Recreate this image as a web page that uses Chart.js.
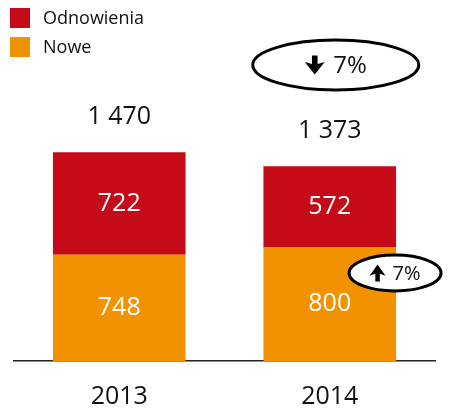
<!DOCTYPE html>
<html>
<head>
<meta charset="utf-8">
<script src="https://cdn.jsdelivr.net/npm/chart.js@4.4.1/dist/chart.umd.min.js"></script>
<style>
  html, body { margin: 0; padding: 0; background: #fff; }
  canvas { display: block; }
</style>
</head>
<body>
<canvas id="chart" width="449" height="408"></canvas>
<script>
const years = ["2013", "2014"];
const nowe = [748, 800];
const odnowienia = [722, 572];
const totals = [1470, 1373];
const seriesNames = ["Nowe", "Odnowienia"];
const seriesColors = ["#f29200", "#c40b17"];
const totalChange = { dir: "down", text: "7%" };
const noweChange = { dir: "up", text: "7%" };

const FONT = "'Open Sans', 'Liberation Sans', sans-serif";

// "1470" -> "1 470"
function fmt(v) {
  return String(v).replace(/\B(?=(\d{3})+(?!\d))/g, " ");
}

function drawArrow(ctx, cx, cy, dir, h, w) {
  const s = dir === "down" ? 1 : -1;
  const headH = h * 0.55;
  const shaft = w * 0.28;
  ctx.beginPath();
  ctx.moveTo(cx - shaft / 2, cy - s * h / 2);
  ctx.lineTo(cx + shaft / 2, cy - s * h / 2);
  ctx.lineTo(cx + shaft / 2, cy + s * (h / 2 - headH));
  ctx.lineTo(cx + w / 2, cy + s * (h / 2 - headH) - s * 2);
  ctx.lineTo(cx, cy + s * h / 2);
  ctx.lineTo(cx - w / 2, cy + s * (h / 2 - headH) - s * 2);
  ctx.lineTo(cx - shaft / 2, cy + s * (h / 2 - headH));
  ctx.closePath();
  ctx.fill();
}

function drawBadge(ctx, cx, cy, rx, ry, change, fontSize, arrowH, arrowW) {
  ctx.save();
  ctx.beginPath();
  ctx.ellipse(cx, cy, rx, ry, 0, 0, 2 * Math.PI);
  ctx.fillStyle = "#fff";
  ctx.fill();
  ctx.lineWidth = 3;
  ctx.strokeStyle = "#000";
  ctx.stroke();

  ctx.font = fontSize + "px " + FONT;
  const tw = ctx.measureText(change.text).width;
  const gap = fontSize * 0.35;
  const total = arrowW + gap + tw;
  const x0 = cx - total / 2;
  ctx.fillStyle = "#000";
  drawArrow(ctx, x0 + arrowW / 2, cy, change.dir, arrowH, arrowW);
  ctx.fillStyle = "#111";
  ctx.textAlign = "left";
  ctx.textBaseline = "middle";
  ctx.fillText(change.text, x0 + arrowW + gap, cy + 1);
  ctx.restore();
}

const labelsPlugin = {
  id: "labelsPlugin",
  afterDatasetsDraw(chart) {
    const ctx = chart.ctx;
    ctx.save();
    ctx.textAlign = "center";
    ctx.textBaseline = "middle";
    ctx.font = "25px " + FONT;

    // values inside segments
    chart.data.datasets.forEach((ds, i) => {
      const meta = chart.getDatasetMeta(i);
      meta.data.forEach((el, j) => {
        ctx.fillStyle = "#fff";
        ctx.fillText(fmt(ds.data[j]), el.x, (el.y + el.base) / 2);
      });
    });

    // totals above bars
    const topMeta = chart.getDatasetMeta(chart.data.datasets.length - 1);
    topMeta.data.forEach((el, j) => {
      ctx.fillStyle = "#111";
      ctx.fillText(fmt(totals[j]), el.x, el.y - 35);
    });
    ctx.restore();

    // change badges
    const bar2 = topMeta.data[1];
    drawBadge(ctx, bar2.x + 6, 65, 83, 25, totalChange, 24, 19, 20);
    const noweBar2 = chart.getDatasetMeta(0).data[1];
    drawBadge(ctx, noweBar2.x + noweBar2.width / 2 - 1, 273, 46, 18, noweChange, 20, 17, 16);
  },
  afterDraw(chart) {
    // legend, top-left, reversed order (Odnowienia first)
    const ctx = chart.ctx;
    ctx.save();
    ctx.font = "18px " + FONT;
    ctx.textBaseline = "middle";
    ctx.textAlign = "left";
    const items = chart.data.datasets.slice().reverse();
    items.forEach((ds, k) => {
      const y = 18 + k * 29;
      ctx.fillStyle = ds.backgroundColor;
      ctx.fillRect(10, y - 10, 20, 20);
      ctx.fillStyle = "#111";
      ctx.fillText(ds.label, 43, y + 1);
    });
    ctx.restore();
  }
};

new Chart(document.getElementById("chart"), {
  type: "bar",
  data: {
    labels: years,
    datasets: [
      { label: seriesNames[0], data: nowe, backgroundColor: seriesColors[0] },
      { label: seriesNames[1], data: odnowienia, backgroundColor: seriesColors[1] }
    ]
  },
  options: {
    responsive: false,
    animation: false,
    layout: { padding: { top: 77, left: 14, right: 14, bottom: 0 } },
    datasets: { bar: { barPercentage: 0.63, categoryPercentage: 1 } },
    plugins: { legend: { display: false }, tooltip: { enabled: false } },
    scales: {
      x: {
        stacked: true,
        grid: { display: false, drawTicks: false },
        border: { display: true, color: "#222", width: 1.5 },
        ticks: { color: "#111", font: { size: 25, family: FONT }, padding: 21 },
        afterFit(scale) { scale.height = 47; }
      },
      y: {
        stacked: true,
        display: false,
        min: 0,
        max: 2000
      }
    }
  },
  plugins: [labelsPlugin]
});
</script>
</body>
</html>
